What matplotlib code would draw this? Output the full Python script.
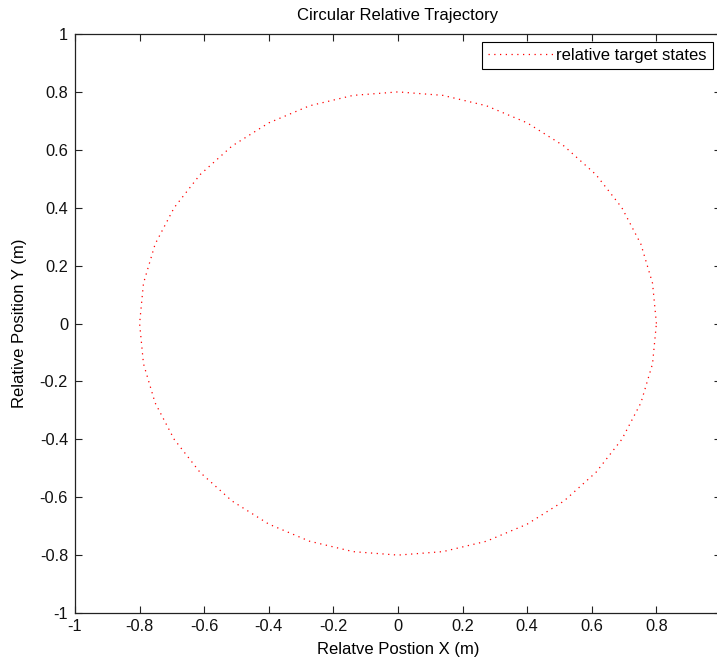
import numpy as np
import matplotlib
matplotlib.use('Agg')
import matplotlib.pyplot as plt

plt.rcParams['font.family'] = ['Liberation Sans', 'DejaVu Sans']
plt.rcParams['font.size'] = 12

# relative target states along the trajectory (m)
x_pos = [0.800, 0.788, 0.752, 0.693, 0.613, 0.514, 0.400, 0.274, 0.139, 0.000,
         -0.139, -0.274, -0.400, -0.514, -0.613, -0.693, -0.752, -0.788, -0.800,
         -0.788, -0.752, -0.693, -0.613, -0.514, -0.400, -0.274, -0.139, 0.000,
         0.139, 0.274, 0.400, 0.514, 0.613, 0.693, 0.752, 0.788, 0.800]
y_pos = [0.000, 0.139, 0.274, 0.400, 0.514, 0.613, 0.693, 0.752, 0.788, 0.800,
         0.788, 0.752, 0.693, 0.613, 0.514, 0.400, 0.274, 0.139, 0.000,
         -0.139, -0.274, -0.400, -0.514, -0.613, -0.693, -0.752, -0.788, -0.800,
         -0.788, -0.752, -0.693, -0.613, -0.514, -0.400, -0.274, -0.139, 0.000]

ticks = [-1, -0.8, -0.6, -0.4, -0.2, 0, 0.2, 0.4, 0.6, 0.8, 1]
y_labels = ['-1', '-0.8', '-0.6', '-0.4', '-0.2', '0', '0.2', '0.4', '0.6', '0.8', '1']
# the last x label sits past the figure edge, so leave it blank
x_labels = y_labels[:-1] + ['']

fig = plt.figure(figsize=(7.17, 6.59), dpi=100)
ax = fig.add_axes([0.1046, 0.0698, 0.901, 0.8786])

ax.plot(x_pos, y_pos, color='red', lw=0.9, dashes=(1, 3.6),
        label='relative target states')

ax.set_xlim(-1, 1)
ax.set_ylim(-1, 1)
ax.set_xticks(ticks)
ax.set_xticklabels(x_labels)
ax.set_yticks(ticks)
ax.set_yticklabels(y_labels)
ax.tick_params(direction='in', top=True, right=True, length=5, width=0.8,
               colors='#222222', labelcolor='#111111', labelsize=11.8)
ax.tick_params(axis='y', pad=5)
ax.tick_params(axis='x', pad=4)
for s in ax.spines.values():
    s.set_color('#222222')
    s.set_linewidth(0.9)

ax.set_title('Circular Relative Trajectory', fontsize=12, pad=10)
ax.set_xlabel('Relatve Postion X (m)', labelpad=6)
ax.set_ylabel('Relative Position Y (m)', labelpad=9)

leg = ax.legend(loc='upper right', fancybox=False, framealpha=1,
                edgecolor='black', borderaxespad=0.5, handlelength=3.9,
                handletextpad=0.2, borderpad=0.35)
leg.get_frame().set_linewidth(0.8)

fig.savefig('out.png', dpi=100)
